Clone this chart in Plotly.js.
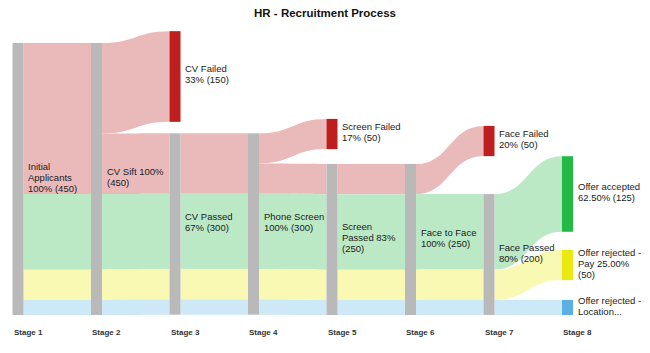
<!DOCTYPE html>
<html>
<head>
<meta charset="utf-8">
<script src="https://cdn.plot.ly/plotly-3.0.1.min.js"></script>
<style>html,body{margin:0;padding:0;background:#fff;}#chart{width:650px;height:353px;}</style>
</head>
<body>
<div id="chart"></div>
<script>
// ---- data ----
var nodeLabels = [
  "Initial<br>Applicants<br>100% (450)",
  "CV Sift 100%<br>(450)",
  "CV Failed<br>33% (150)",
  "CV Passed<br>67% (300)",
  "Phone Screen<br>100% (300)",
  "Screen Failed<br>17% (50)",
  "Screen<br>Passed 83%<br>(250)",
  "Face to Face<br>100% (250)",
  "Face Failed<br>20% (50)",
  "Face Passed<br>80% (200)",
  "Offer accepted<br>62.50% (125)",
  "Offer rejected -<br>Pay 25.00%<br>(50)",
  "Offer rejected -<br>Location..."
];
var nodeStage = [0, 1, 2, 2, 3, 4, 4, 5, 6, 6, 7, 7, 7];
var nodeKind = ["main","main","failed","main","main","failed","main","main","failed","main","accepted","pay","location"];
var stageLabels = ["Stage 1","Stage 2","Stage 3","Stage 4","Stage 5","Stage 6","Stage 7","Stage 8"];

var linkSource = [0,0,0,0, 1, 1,1,1,1, 3,3,3,3, 4, 4,4,4,4, 6,6,6,6, 7, 7,7,7, 9, 9, 9];
var linkTarget = [1,1,1,1, 2, 3,3,3,3, 4,4,4,4, 5, 6,6,6,6, 7,7,7,7, 8, 9,9,9, 10,11,12];
var linkValue  = [250,125,50,25, 150, 100,125,50,25, 100,125,50,25, 50, 50,125,50,25, 50,125,50,25, 50, 125,50,25, 125,50,25];
var linkOutcome = ["failed","accepted","pay","location", "failed",
  "failed","accepted","pay","location", "failed","accepted","pay","location", "failed",
  "failed","accepted","pay","location", "failed","accepted","pay","location", "failed",
  "accepted","pay","location", "accepted","pay","location"];

// ---- styles / layout positions ----
var nodeColors = {main:"#b9b9b9", failed:"#bf1e1f", accepted:"#22ba44", pay:"#eaea12", location:"#59b0e2"};
var linkColors = {failed:"#eababa", accepted:"#bbe9c6", pay:"#f9f9b4", location:"#cde8f6"};
var W = 650, H = 353, mT = 31, mB = 38;
var plotH = H - mT - mB;
var colX0 = 18, colStep = 78.5, thick = 11;
// node vertical centres (pixels from top of figure), manual arrangement as in the reference
var nodeCenterPx = [179, 179, 76.5, 224, 224, 134, 239.5, 239.5, 141, 254.5, 194, 265, 307.5];

var nodeX = nodeStage.map(function(s){ return (colX0 + colStep*s)/W; });
var nodeY = nodeCenterPx.map(function(c){ return (c - mT)/plotH; });

var trace = {
  type: "sankey",
  arrangement: "fixed",
  domain: {x:[0,1], y:[0,1]},
  node: {
    label: nodeLabels.map(function(){ return ""; }),
    customdata: nodeLabels,
    hovertemplate: "%{customdata}<extra></extra>",
    x: nodeX,
    y: nodeY,
    pad: 12,
    thickness: thick,
    align: "left",
    color: nodeKind.map(function(k){ return nodeColors[k]; }),
    line: {width: 0}
  },
  link: {
    source: linkSource,
    target: linkTarget,
    value: linkValue,
    color: linkOutcome.map(function(o){ return linkColors[o]; }),
    line: {width: 0}
  }
};

var font = "Arial, 'Liberation Sans', sans-serif";
var annotations = [];
var lineGap = 11;
nodeLabels.forEach(function(lbl, i){
  var lines = lbl.split("<br>");
  var n = lines.length;
  lines.forEach(function(t, j){
    annotations.push({
      xref:"paper", yref:"paper",
      x: nodeX[i] + (thick/2 + 4.5)/W,
      y: 1 - nodeY[i],
      xanchor:"left", yanchor:"middle",
      yshift: 2 + ((n-1)/2 - j)*lineGap,
      text: t, showarrow:false, align:"left",
      borderpad:0, borderwidth:0,
      font:{family:font, size:9.5, color:"#1a1a1a"}
    });
  });
});
stageLabels.forEach(function(s, k){
  annotations.push({
    xref:"paper", yref:"paper",
    x: (colX0 + colStep*k - thick/2 + 1)/W, y: 0,
    xanchor:"left", yanchor:"middle", yshift:-17,
    text: s, showarrow:false, borderpad:0, borderwidth:0,
    font:{family:font, size:8, color:"#333", weight:"bold"}
  });
});

var layout = {
  width: W, height: H,
  margin: {l:0, r:0, t:mT, b:mB, pad:0},
  paper_bgcolor:"#fff", plot_bgcolor:"#fff",
  title: {text:"HR - Recruitment Process", x:0.5, xanchor:"center", xref:"paper",
          y: 1 - 13/H, yref:"container", yanchor:"middle",
          font:{family:font, size:11.5, color:"#111", weight:"bold"}},
  font:{family:font},
  annotations: annotations,
  showlegend:false
};

Plotly.newPlot("chart", [trace], layout, {displayModeBar:false, staticPlot:false});
</script>
</body>
</html>
